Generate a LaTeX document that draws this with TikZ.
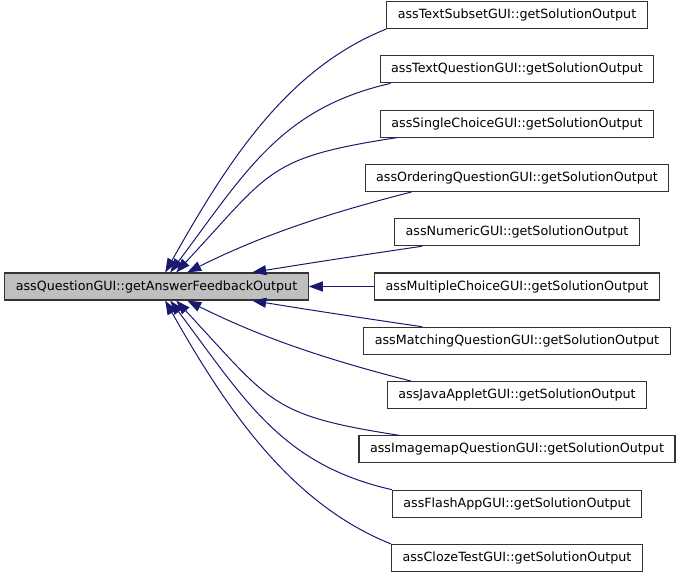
\documentclass[tikz,border=0pt]{standalone}
\usepackage{fontspec}
\setmainfont{DejaVu Sans}
\usetikzlibrary{arrows.meta, positioning, calc}
\definecolor{edgeblue}{HTML}{191970}
\definecolor{boxgray}{HTML}{BFBFBF}

\begin{document}
\begin{tikzpicture}[
  x=1pt, y=-1pt,
  fn/.style={rectangle, draw=black!80, line width=1.1pt, minimum height=27pt,
    inner xsep=11pt, inner ysep=0pt, font=\fontsize{12.7}{15}\selectfont},
  edge/.style={draw=edgeblue, line width=1pt, -{Triangle[length=14pt, width=10pt]}},
  node distance=26.2pt
]
  \useasboundingbox (0,0) rectangle (683,573);
  % caller
  \node[fn, fill=boxgray] (main) at (156.5,286.5) {assQuestionGUI::getAnswerFeedbackOutput};
  % callees
  \node[fn] (mchoice) at (517,286.5) {assMultipleChoiceGUI::getSolutionOutput};
  \node[fn, above=of mchoice] (numeric) {assNumericGUI::getSolutionOutput};
  \node[fn, above=of numeric] (ordering) {assOrderingQuestionGUI::getSolutionOutput};
  \node[fn, above=of ordering] (single) {assSingleChoiceGUI::getSolutionOutput};
  \node[fn, above=of single] (tquest) {assTextQuestionGUI::getSolutionOutput};
  \node[fn, above=of tquest] (tsub) {assTextSubsetGUI::getSolutionOutput};
  \node[fn, below=of mchoice] (matching) {assMatchingQuestionGUI::getSolutionOutput};
  \node[fn, below=of matching] (java) {assJavaAppletGUI::getSolutionOutput};
  \node[fn, below=of java] (imagemap) {assImagemapQuestionGUI::getSolutionOutput};
  \node[fn, below=of imagemap] (flash) {assFlashAppGUI::getSolutionOutput};
  \node[fn, below=of flash] (cloze) {assClozeTestGUI::getSolutionOutput};
  % arrow tips on the caller
  \coordinate (t1) at ([xshift=161pt]main.north west);
  \coordinate (t2) at ([xshift=166pt]main.north west);
  \coordinate (t3) at ([xshift=172pt]main.north west);
  \coordinate (t4) at ([xshift=183pt]main.north west);
  \coordinate (t5) at ([xshift=248pt]main.north west);
  \coordinate (b7) at ([xshift=248pt]main.south west);
  \coordinate (b8) at ([xshift=183pt]main.south west);
  \coordinate (b9) at ([xshift=172pt]main.south west);
  \coordinate (b10) at ([xshift=166pt]main.south west);
  \coordinate (b11) at ([xshift=161pt]main.south west);
  % calls
  \draw[edge] (tsub.south west) .. controls +(-100,40) and ($(t1)+(62,-110)$) .. (t1);
  \draw[edge] ([xshift=11pt]tquest.south west) .. controls +(-110,25) and ($(t2)+(75,-100)$) .. (t2);
  \draw[edge] ([xshift=17pt]single.south west) .. controls +(-130,20) and ($(t3)+(95,-102)$) .. (t3);
  \draw[edge] ([xshift=47pt]ordering.south west) .. controls +(-82,21) and ($(t4)+(76,-38)$) .. (t4);
  \draw[edge] ([xshift=28pt]numeric.south west) .. controls +(-55,8) and ($(t5)+(55,-9)$) .. (t5);
  \draw[edge] (mchoice) -- (main);
  \draw[edge] ([xshift=59pt]matching.north west) .. controls +(-55,-8) and ($(b7)+(55,9)$) .. (b7);
  \draw[edge] ([xshift=24pt]java.north west) .. controls +(-82,-21) and ($(b8)+(76,38)$) .. (b8);
  \draw[edge] ([xshift=41pt]imagemap.north west) .. controls +(-130,-20) and ($(b9)+(95,102)$) .. (b9);
  \draw[edge] (flash.north west) .. controls +(-110,-25) and ($(b10)+(75,100)$) .. (b10);
  \draw[edge] (cloze.north west) .. controls +(-100,-40) and ($(b11)+(62,110)$) .. (b11);
\end{tikzpicture}
\end{document}
